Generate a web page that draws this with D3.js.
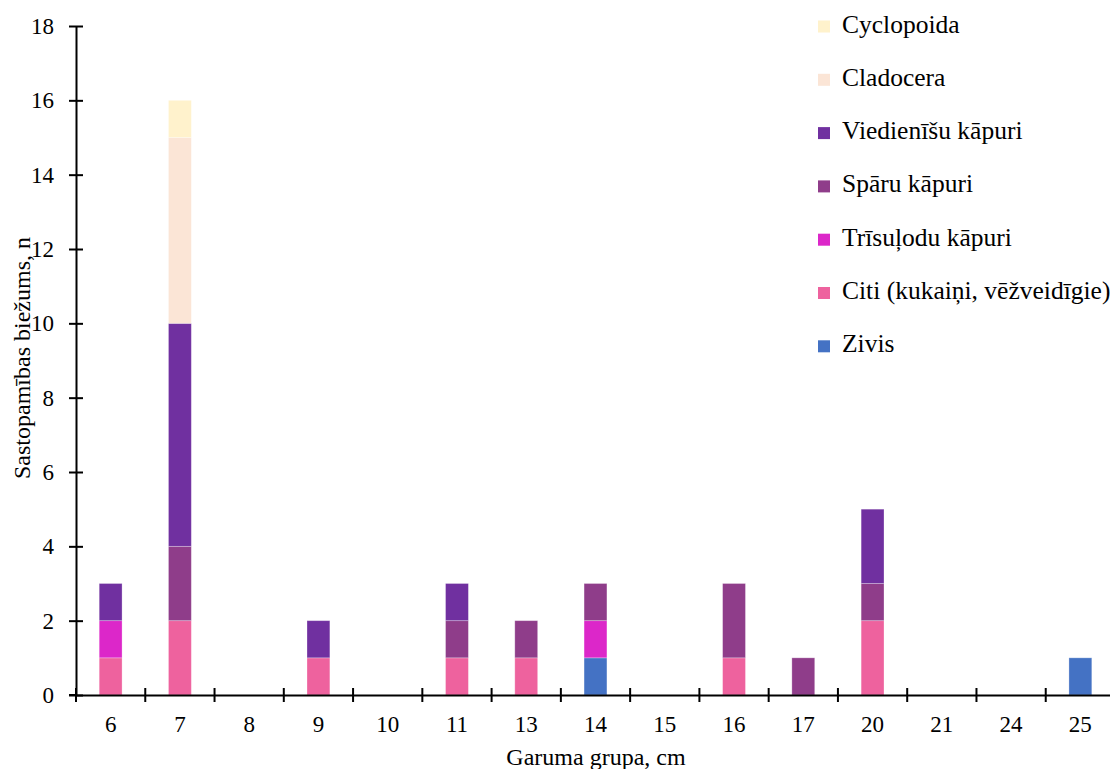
<!DOCTYPE html>
<html>
<head>
<meta charset="UTF-8">
<title>Garuma grupa</title>
<script src="https://d3js.org/d3.v7.min.js"></script>
<style>
  body { margin: 0; background: #fff; }
</style>
</head>
<body>
<script>
// length groups (cm)
const groups = ["6", "7", "8", "9", "10", "11", "13", "14", "15", "16", "17", "20", "21", "24", "25"];

// series, bottom of the stack first
const zivis      = [0, 0, 0, 0, 0, 0, 0, 1, 0, 0, 0, 0, 0, 0, 1];
const citi       = [1, 2, 0, 1, 0, 1, 1, 0, 0, 1, 0, 2, 0, 0, 0];
const trisulodu  = [1, 0, 0, 0, 0, 0, 0, 1, 0, 0, 0, 0, 0, 0, 0];
const sparu      = [0, 2, 0, 0, 0, 1, 1, 1, 0, 2, 1, 1, 0, 0, 0];
const viedienisu = [1, 6, 0, 1, 0, 1, 0, 0, 0, 0, 0, 2, 0, 0, 0];
const cladocera  = [0, 5, 0, 0, 0, 0, 0, 0, 0, 0, 0, 0, 0, 0, 0];
const cyclopoida = [0, 1, 0, 0, 0, 0, 0, 0, 0, 0, 0, 0, 0, 0, 0];

const seriesNames = ["Zivis", "Citi (kukaiņi, vēžveidīgie)", "Trīsuļodu kāpuri",
  "Spāru kāpuri", "Viedienīšu kāpuri", "Cladocera", "Cyclopoida"];
const seriesValues = [zivis, citi, trisulodu, sparu, viedienisu, cladocera, cyclopoida];
const seriesColors = ["#4472C4", "#EE629E", "#DC27C9", "#8F3D8A", "#7030A0", "#FBE5D6", "#FFF2CC"];

const yTicks = [0, 2, 4, 6, 8, 10, 12, 14, 16, 18];

const W = 1110, H = 769;
const margin = { left: 76, right: -5, top: 26, bottom: 74 };
const FONT = "Liberation Serif";
const FS = 23;

const svg = d3.select("body").append("svg")
  .attr("width", W).attr("height", H)
  .attr("font-family", FONT);

const x = d3.scaleBand()
  .domain(groups)
  .range([margin.left, W - margin.right])
  .paddingInner(0).paddingOuter(0);

const y = d3.scaleLinear()
  .domain([0, 18])
  .range([H - margin.bottom, margin.top]);

// build rows for d3.stack
const keys = seriesNames;
const rows = groups.map((g, i) => {
  const r = { group: g };
  keys.forEach((k, j) => { r[k] = seriesValues[j][i]; });
  return r;
});
const stacked = d3.stack().keys(keys)(rows);
const color = d3.scaleOrdinal().domain(keys).range(seriesColors);

const barW = x.bandwidth() * 0.33;

svg.append("g").selectAll("g")
  .data(stacked)
  .join("g")
  .attr("fill", d => color(d.key))
  .selectAll("rect")
  .data(d => d.filter(p => p[1] > p[0]))
  .join("rect")
  .attr("x", d => x(d.data.group) + (x.bandwidth() - barW) / 2)
  .attr("width", barW)
  .attr("y", d => y(d[1]))
  .attr("height", d => y(d[0]) - y(d[1]))
  .attr("stroke", "rgba(255,255,255,0.35)")
  .attr("stroke-width", 0.8);

// y axis
const yAxis = d3.axisLeft(y).tickValues(yTicks).tickSize(0).tickPadding(22);
const gy = svg.append("g").attr("transform", `translate(${margin.left},0)`).call(yAxis)
  .attr("font-family", FONT).attr("font-size", FS);
gy.select(".domain").attr("stroke", "#000").attr("stroke-width", 2);
gy.selectAll("text").attr("fill", "#000");
gy.selectAll(".tick").append("line")
  .attr("x1", -7).attr("x2", 7)
  .attr("stroke", "#000").attr("stroke-width", 2);

// x axis
const xAxis = d3.axisBottom(x).tickSize(0).tickPadding(21);
const gx = svg.append("g").attr("transform", `translate(0,${y(0)})`).call(xAxis)
  .attr("font-family", FONT).attr("font-size", FS);
gx.select(".domain").attr("stroke", "#000").attr("stroke-width", 2);
gx.selectAll("text").attr("fill", "#000");
// boundary ticks between groups
svg.append("g").selectAll("line")
  .data(groups)
  .join("line")
  .attr("x1", d => x(d)).attr("x2", d => x(d))
  .attr("y1", y(0) - 7).attr("y2", y(0) + 7)
  .attr("stroke", "#000").attr("stroke-width", 2);
svg.append("line")
  .attr("x1", margin.left - 7).attr("x2", margin.left)
  .attr("y1", y(0)).attr("y2", y(0))
  .attr("stroke", "#000").attr("stroke-width", 2);

// axis titles
svg.append("text")
  .attr("x", 596)
  .attr("y", 765)
  .attr("text-anchor", "middle")
  .attr("font-size", 24)
  .text("Garuma grupa, cm");

svg.append("text")
  .attr("transform", "translate(30,358) rotate(-90)")
  .attr("text-anchor", "middle")
  .attr("font-size", 24)
  .text("Sastopamības biežums, n");

// legend, top entry is the last series
const legendKeys = keys.slice().reverse();
const lg = svg.append("g").selectAll("g")
  .data(legendKeys)
  .join("g")
  .attr("transform", (d, i) => `translate(818,${26.5 + i * 53.3})`);
lg.append("rect")
  .attr("x", 0).attr("y", -6)
  .attr("width", 12).attr("height", 12)
  .attr("fill", d => color(d));
lg.append("text")
  .attr("x", 24).attr("y", 6)
  .attr("font-size", 25.5)
  .text(d => d);
</script>
</body>
</html>
